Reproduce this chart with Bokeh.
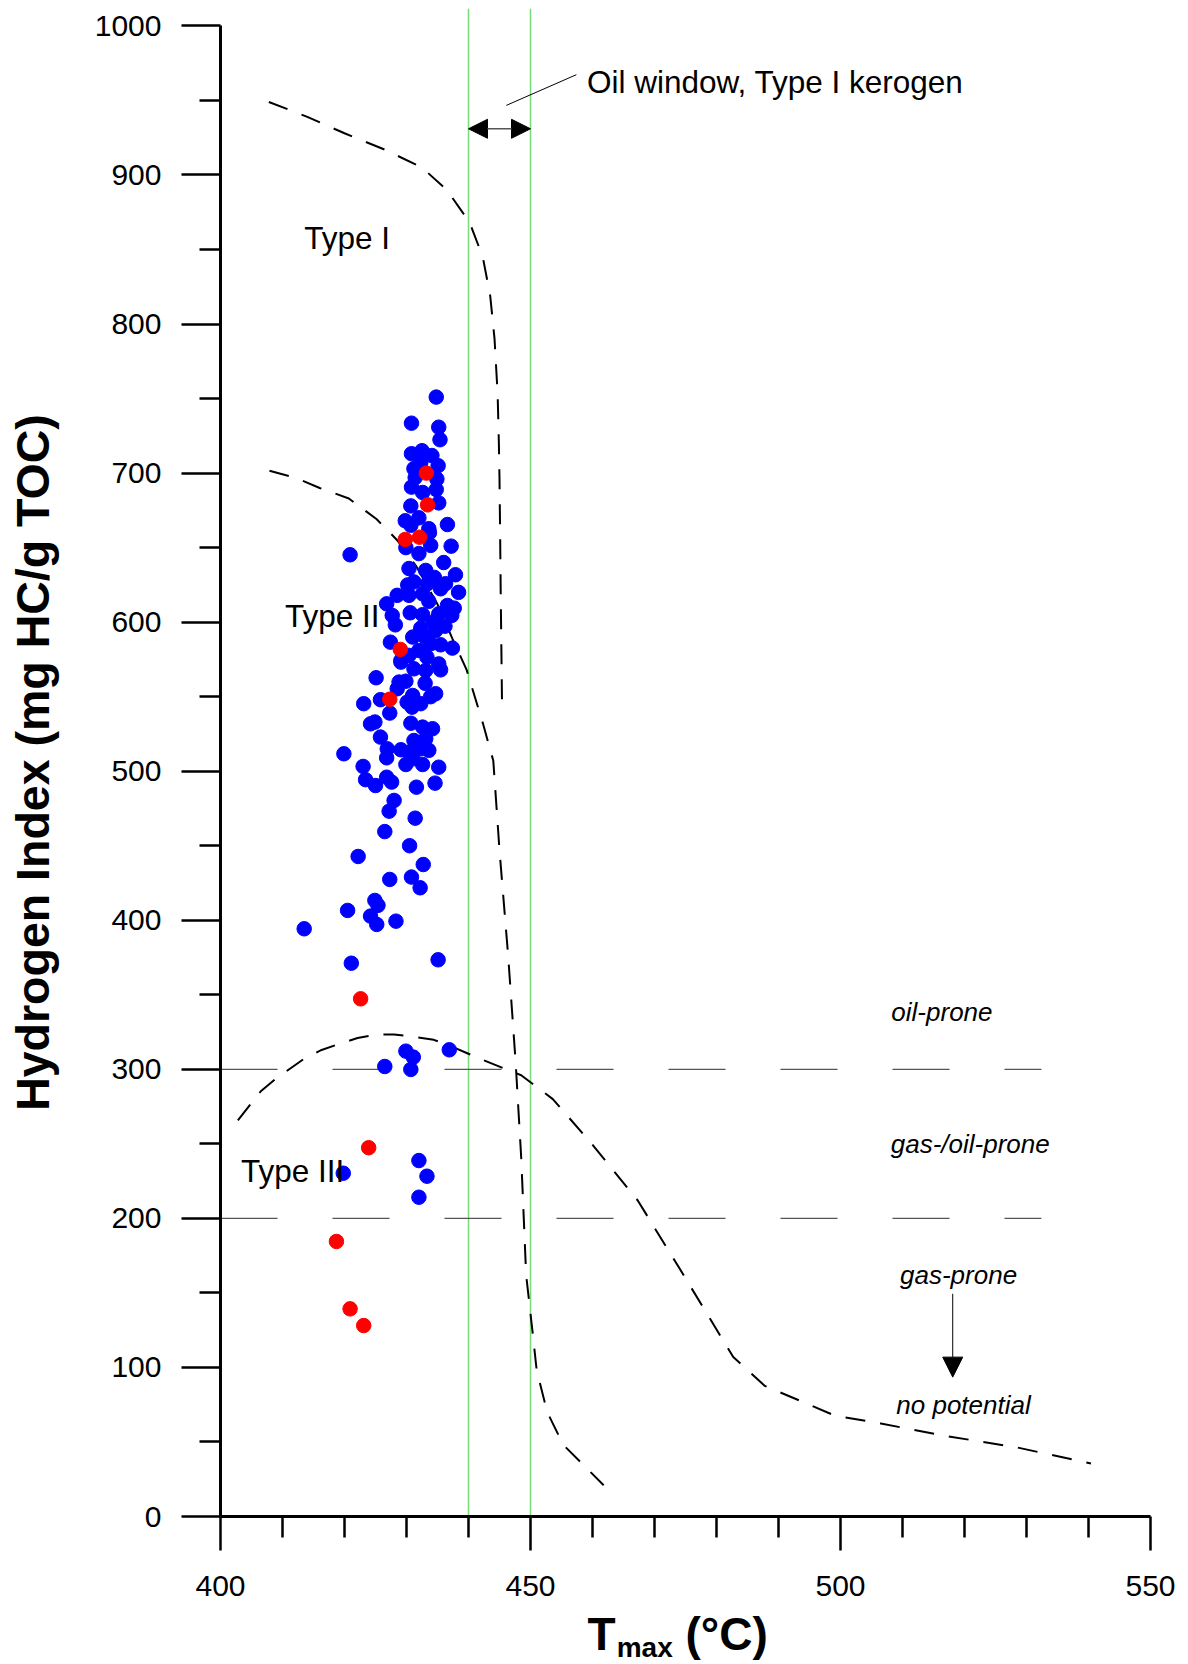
from bokeh.plotting import figure
from bokeh.layouts import column
from bokeh.models import Range1d, FixedTicker, Label, Arrow, NormalHead
from bokeh.embed import file_html
from bokeh.resources import INLINE

# ---------------- data ----------------
blue_tmax = [
    434.8, 430.8, 435.2, 435.4, 430.8, 432.5, 434.1, 435.1, 431.2, 432.3, 431.4, 434.9,
    430.8, 434.8, 432.6, 430.7, 435.2, 432.0, 429.8, 430.7, 436.6, 433.6,
    433.7, 433.9, 437.2, 432.0, 436.0, 430.4, 433.1, 437.9, 431.2, 433.4, 436.3, 435.5,
    438.4, 428.5, 430.4, 432.6, 426.8, 433.6, 436.6, 437.7, 427.7, 430.6, 432.6, 435.2,
    437.3, 428.2, 432.3, 434.3, 436.2, 434.7, 427.4, 433.9, 435.5, 437.4, 432.0, 430.4,
    433.3, 429.1, 435.2, 429.9, 430.2, 434.5, 431.0, 433.0,
    429.1, 431.2, 433.1, 435.5, 425.1, 429.9, 433.0, 428.5, 431.0, 434.7, 423.1, 425.8,
    430.1, 432.3, 433.9, 427.3, 424.9, 424.2, 430.7, 432.6, 434.2, 425.8, 431.2, 433.1,
    426.9, 429.1, 432.3, 433.6, 426.8, 431.0, 429.9, 432.6, 435.2, 423.0, 423.4, 425.0,
    426.8, 427.6, 431.6, 434.6, 428.0, 430.4, 428.8, 430.9,
    427.2, 431.4, 426.5, 430.5, 422.2, 432.7, 427.3, 430.8, 432.2, 424.9, 425.4, 420.5,
    424.2, 425.2, 428.3, 413.5, 421.1, 435.1, 426.5, 429.9, 431.1, 430.7, 436.9, 432.0,
    433.3, 432.0, 419.8, 420.9, 419.9,
]
blue_hi = [
    751, 733.5, 730.8, 722.4, 713, 715, 711.8, 705, 703, 707, 697, 696,
    690.6, 689, 687, 678, 680, 670, 668, 665, 665.5, 662.7,
    660, 651.5, 651, 646, 640, 636, 634.7, 631.8, 627, 625.8, 625.8, 622.4,
    620, 618, 618, 619, 612.3, 614, 611.2, 609.4, 604.5, 606.3, 605, 605.6,
    604.5, 598.2, 596, 600, 597.3, 594.4, 586.6, 585.5, 584.8, 582.6, 581, 577.7,
    576.5, 574.3, 572, 650, 625, 630, 590, 590,
    573.2, 568.7, 567.6, 568, 562.7, 560.4, 559, 555.3, 550.8, 552, 545.3, 548,
    546.3, 545.3, 550, 539, 533, 531.8, 532.2, 529.6, 528.5, 522.9, 520.6, 521.8,
    515, 514.4, 515, 514, 509, 508.3, 504.5, 504.5, 502.7, 503.2, 494.3, 490.4,
    496, 492.7, 489.3, 492, 480.4, 512.8, 559.8, 543,
    473.2, 468.5, 459.5, 450, 442.8, 437.4, 427.4, 429, 421.8, 413.3, 410, 406.6,
    402.8, 397.2, 399.4, 394.3, 371.2, 373.5, 301.9, 312.2, 308.2, 299.9, 313.1, 238.8,
    228.3, 214.2, 230.3, 645.2, 511.7,
]
red_tmax = [433.2, 433.4, 429.8, 432.1, 429.0, 427.3, 422.6, 423.9, 418.7, 420.9, 423.1]
red_hi = [700, 678.7, 655.5, 657, 581.7, 548.3, 347.3, 247.4, 184.5, 139.3, 128.1]

# kerogen type boundary curves
type1_tmax = [407.8, 414, 420, 426.5, 432.5, 436.5, 440.2, 442.3, 443.5, 444.2, 444.7,
              444.9, 445.0, 445.1, 445.2, 445.4]
type1_hi = [949, 939, 928, 917, 905, 890, 868, 845, 819, 790, 753, 720, 696, 660, 618, 548]

type2_tmax = [407.9, 412, 416, 420.7, 425.2, 428.5, 431.5, 435, 437.4, 439.7, 442.4, 444.0,
              445.0, 446.4, 447.6, 448.5, 449.3, 450.3, 451.0, 452.7, 455.3, 461.8]
type2_hi = [701.6, 697, 690, 683, 669, 655, 638, 612, 589, 568, 531, 507, 447, 376, 305,
            241, 162, 125, 98, 70, 48, 21]

type3_tmax = [402.8, 406.5, 408.9, 411.2, 413.7, 416.3, 419.1, 422.1, 425, 428, 431, 434.4,
              436.9, 439.8, 442.5, 448.5, 453.6, 459.6, 467.3, 474.1, 482.7, 487.8, 494,
              499, 506.5, 516.6, 528.5, 540.4]
type3_hi = [265.7, 285.3, 293.6, 300.4, 307.7, 313, 317, 321, 323.2, 323.4, 322, 319.8,
            316, 310.8, 306, 296, 280, 251.4, 212, 166, 107, 87.6, 76.7, 67.8, 62.4, 54.3,
            46.3, 35.6]

potential_bounds = [300, 200]          # HI limits oil-prone / gas-prone
potential_tmax_range = [400, 532.4]
oil_window = [440, 450]                # Type I kerogen oil window (°C)

y_ticks = list(range(0, 1001, 100))
y_minor = list(range(50, 1000, 100))
x_ticks = [400, 450, 500, 550]
x_minor = [t for t in range(410, 550, 10) if t not in (450, 500)]

FONT = "Liberation Sans"
Y_TOP = 1011.7

# ---------------- main figure ----------------
p = figure(width=1188, height=1608, x_range=Range1d(400, 550), y_range=Range1d(0, Y_TOP),
           output_backend="svg", toolbar_location=None,
           min_border_left=220, min_border_right=38, min_border_top=8, min_border_bottom=92)
p.grid.visible = False
p.outline_line_color = None

for ax in (p.xaxis[0], p.yaxis[0]):
    ax.axis_line_width = 3
    ax.axis_line_color = "black"
    ax.major_tick_line_width = 2.5
    ax.minor_tick_line_width = 2.5
    ax.major_tick_in = 0
    ax.minor_tick_in = 0
    ax.major_label_text_font = FONT
    ax.major_label_text_font_size = "30px"
    ax.major_label_text_color = "black"

p.xaxis.ticker = FixedTicker(ticks=x_ticks, minor_ticks=x_minor)
p.xaxis.bounds = (400, 550)
p.xaxis.major_tick_out = 34
p.xaxis.minor_tick_out = 21
p.xaxis.major_label_standoff = 25

p.yaxis.ticker = FixedTicker(ticks=y_ticks, minor_ticks=y_minor)
p.yaxis.bounds = (0, 1000)
p.yaxis.major_tick_out = 39
p.yaxis.minor_tick_out = 21
p.yaxis.major_label_standoff = 20
p.yaxis.axis_label = "Hydrogen Index (mg HC/g TOC)"
p.yaxis.axis_label_text_font = FONT
p.yaxis.axis_label_text_font_size = "46.5px"
p.yaxis.axis_label_text_font_style = "bold"
p.yaxis.axis_label_text_color = "black"
p.yaxis.axis_label_standoff = 33

# oil window lines
p.segment(x0=oil_window, y0=[0, 0], x1=oil_window, y1=[Y_TOP, Y_TOP],
          line_color="#77dd77", line_width=1.5)

# HI boundary lines
for hi in potential_bounds:
    p.line(potential_tmax_range, [hi, hi], line_color="#555555", line_width=1.3,
           line_dash="57 55")

# kerogen curves
for xs, ys in ((type1_tmax, type1_hi), (type2_tmax, type2_hi), (type3_tmax, type3_hi)):
    p.line(xs, ys, line_color="black", line_width=2, line_dash="20 15")

# samples
p.scatter(blue_tmax, blue_hi, size=14.5, fill_color="#0000ff", line_color="#0000ff")
p.scatter(red_tmax, red_hi, size=14.5, fill_color="#ff0000", line_color="#ff0000")

# oil window arrow and label
p.add_layout(Arrow(start=NormalHead(size=19, fill_color="black", line_color="black"),
                   end=NormalHead(size=19, fill_color="black", line_color="black"),
                   x_start=oil_window[0], x_end=oil_window[1], y_start=931, y_end=931,
                   line_color="#555555", line_width=1.5))
p.line([446.1, 457.4], [946.7, 967.3], line_color="black", line_width=1)


def lab(fig, x, y, text, size="31.5px", style="normal", baseline="middle"):
    fig.add_layout(Label(x=x, y=y, text=text, text_font=FONT, text_font_size=size,
                         text_font_style=style, text_color="black", text_baseline=baseline,
                         text_align="left"))


lab(p, 459.1, 962.3, "Oil window, Type I kerogen")
lab(p, 413.5, 857.4, "Type I")
lab(p, 410.4, 604, "Type II")
lab(p, 403.3, 232, "Type III")
lab(p, 508.2, 338.3, "oil-prone", "26px", "italic")
lab(p, 508.1, 250, "gas-/oil-prone", "26px", "italic")
lab(p, 509.6, 161.7, "gas-prone", "26px", "italic")
lab(p, 509.0, 75.1, "no potential", "26px", "italic")

p.add_layout(Arrow(end=NormalHead(size=20, fill_color="black", line_color="black"),
                   x_start=518.1, y_start=149.4, x_end=518.1, y_end=93.5,
                   line_color="black", line_width=1))

# ---------------- x-axis title strip (T with subscript max) ----------------
t = figure(width=1188, height=56, x_range=Range1d(400, 550), y_range=Range1d(0, 56),
           output_backend="svg", toolbar_location=None,
           min_border_left=220, min_border_right=38, min_border_top=0, min_border_bottom=0)
t.axis.visible = False
t.grid.visible = False
t.outline_line_color = None
lab(t, 459.2, 30.5, "T", "46px", "bold")
lab(t, 463.9, 17, "max", "28px", "bold")
lab(t, 475.0, 30.5, "(°C)", "46px", "bold")

layout = column(p, t, spacing=0)
open("out.html", "w").write(file_html(layout, INLINE))
